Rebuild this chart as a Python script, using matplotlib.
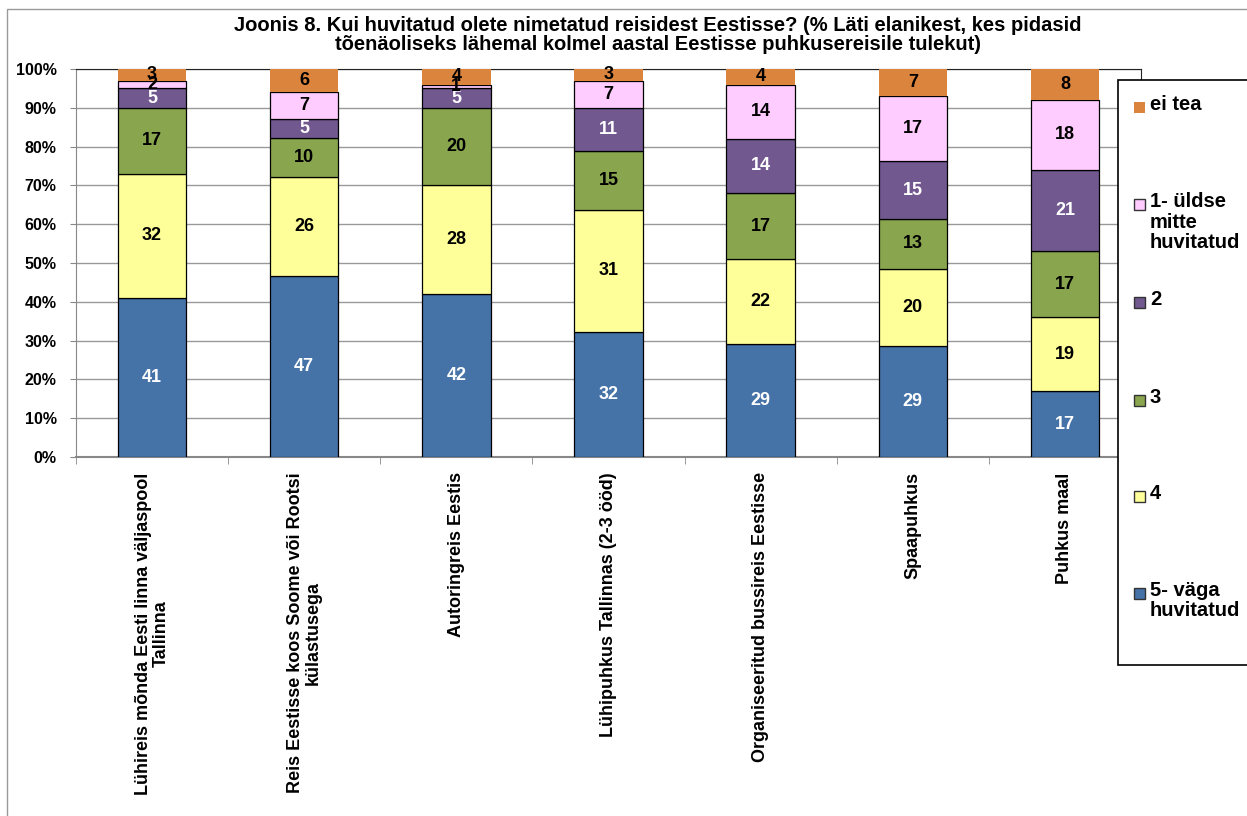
import matplotlib.pyplot as plt
import matplotlib.patches as mpatches
import numpy as np

plt.rcParams['font.family'] = ['Liberation Sans', 'DejaVu Sans']
plt.rcParams['font.weight'] = 'bold'

categories = [
    "Lühireis mõnda Eesti linna väljaspool\nTallinna",
    "Reis Eestisse koos Soome või Rootsi\nkülastusega",
    "Autoringreis Eestis",
    "Lühipuhkus Tallinnas (2-3 ööd)",
    "Organiseeritud bussireis Eestisse",
    "Spaapuhkus",
    "Puhkus maal",
]
series_names = ["5- väga\nhuvitatud", "4", "3", "2", "1- üldse\nmitte\nhuvitatud", "ei tea"]
v5 = [41, 47, 42, 32, 29, 29, 17]
v4 = [32, 26, 28, 31, 22, 20, 19]
v3 = [17, 10, 20, 15, 17, 13, 17]
v2 = [5, 5, 5, 11, 14, 15, 21]
v1 = [2, 7, 1, 7, 14, 17, 18]
v0 = [3, 6, 4, 3, 4, 7, 8]
colors = ["#4572A7", "#FFFF99", "#89A54E", "#71588F", "#FFCCFF", "#DB843D"]
text_colors = ["white", "black", "black", "white", "black", "black"]

data = np.array([v5, v4, v3, v2, v1, v0], dtype=float)
shares = data / data.sum(axis=0) * 100

W, H = 1247, 816
fig = plt.figure(figsize=(W / 100, H / 100), dpi=100)
ax = fig.add_axes([76 / W, 1 - 457 / H, 1065 / W, 388 / H])

x = np.arange(len(categories))
bottom = np.zeros(len(categories))
for i in range(len(series_names)):
    edge = "none" if i == 5 else "black"
    ax.bar(x, shares[i], 0.45, bottom=bottom, color=colors[i],
           edgecolor=edge, linewidth=0.9, zorder=3)
    for j in range(len(categories)):
        ax.text(x[j], bottom[j] + shares[i][j] / 2, str(int(data[i][j])),
                ha='center', va='center', fontsize=13, fontweight='bold',
                color=text_colors[i], zorder=4)
    bottom += shares[i]

ax.set_xlim(-0.5, len(categories) - 0.5)
ax.set_ylim(0, 100)
ax.set_yticks(np.arange(0, 101, 10))
ax.set_yticklabels([str(t) + "%" for t in range(0, 101, 10)], fontsize=11.5, fontweight='bold')
ax.yaxis.grid(True, color='#999999', linewidth=1, zorder=0)
ax.set_xticks(x)
ax.set_xticks(np.arange(-0.5, len(categories), 1), minor=True)
ax.set_xticklabels(categories, rotation=90, fontsize=13, fontweight='bold',
                   ha='center', va='top', multialignment='center', linespacing=1.05)
ax.tick_params(axis='x', which='major', length=0, pad=11)
ax.tick_params(axis='x', which='minor', length=5, color='#888888')
ax.tick_params(axis='y', length=4, color='#888888', pad=10)
for s in ['top', 'right']:
    ax.spines[s].set_color('#222222')
for s in ['left', 'bottom']:
    ax.spines[s].set_color('#888888')
ax.spines['bottom'].set_linewidth(1.5)

fig.text(658 / W, 1 - 35 / H,
         "Joonis 8. Kui huvitatud olete nimetatud reisidest Eestisse? (% Läti elanikest, kes pidasid\n"
         "tõenäoliseks lähemal kolmel aastal Eestisse puhkusereisile tulekut)",
         ha='center', va='center', fontsize=14.5, fontweight='bold', linespacing=1.05)

# legend box overlapping the plot area, like the original
fig.add_artist(mpatches.Rectangle((1118 / W, 1 - 665 / H), 200 / W, 585 / H,
                                  transform=fig.transFigure, facecolor='white',
                                  edgecolor='black', linewidth=1.2, zorder=5))
legend_y = [107, 204, 302, 400, 496, 593]
order = [5, 4, 3, 2, 1, 0]
for k, i in enumerate(order):
    yc = legend_y[k]
    edge = "none" if i == 5 else "#333333"
    fig.add_artist(mpatches.Rectangle((1134 / W, 1 - (yc + 5.5) / H), 11 / W, 11 / H,
                                      transform=fig.transFigure, facecolor=colors[i],
                                      edgecolor=edge, linewidth=1, zorder=6))
    fig.text(1150 / W, 1 - (yc - 12) / H, series_names[i], ha='left', va='top',
             fontsize=14.5, fontweight='bold', linespacing=1.1, zorder=6)

fig.add_artist(mpatches.Rectangle((7 / W, -0.1), 1.2, 1 - 9 / H + 0.1, transform=fig.transFigure,
                                  fill=False, edgecolor='#999999', linewidth=1, zorder=7))

fig.savefig("out.png", dpi=100)
